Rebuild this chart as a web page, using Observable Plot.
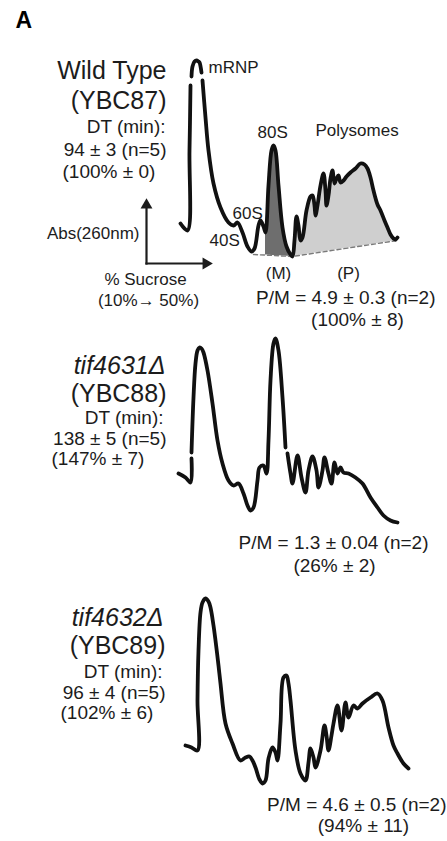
<!DOCTYPE html>
<html><head><meta charset="utf-8">
<script src="https://cdn.jsdelivr.net/npm/d3@7"></script>
<script src="https://cdn.jsdelivr.net/npm/@observablehq/plot@0.6"></script>
<style>
body{margin:0;background:#fff;width:447px;}
#fig svg{display:block;}
</style></head><body><div id="fig"></div>
<script>
// ---- Polysome profiles: gradient position (arbitrary units) vs Abs(260nm) (arbitrary units) ----
const wtPos = [2,9,11,12,13,13,14,16,18,20,21,23,23.5,24,27,30,35,42,50,55,59,64,69,73,76,80,82,85,87,90,93,95,97,100,104,108,112,114,116,118,120,122,124,128,132,134,136,137,139,142,145,147,148,150,152,154,156,158,160,162,165,168,172,177,182,186,189,192,195,199,202,206,209,212,215,217,219];
const wtAbs = [33,26,106,171,NaN,180,190,195,196,195,194,184,NaN,176,139,106,73,49,34,31,34,24,10,5,8,31,36,30,24,71,106,111,106,71,29,10,2,0,16,40,31,16,19,46,60,61,51,41,51,71,83,66,51,61,78,86,73,78,81,74,76,80,84,88,93,92,88,79,66,52,46,36,29,22,18,17,19];

const t1Pos = [0,7,12,13,13,13,15,17,19,21,23,25,29,34,39,44,50,55,60,65,69,72,75,79,81,85,88,90,92,95,97,100,104,107,108,109,112,114,119,123,127,130,134,138,140,144,146,150,153,156,159,162,165,170,177,184,192,199,205,212,219];
const t1Abs = [49,45,40,64,NaN,70,125,159,172,175,174,170,152,119,82,59,42,37,39,29,17,12,15,42,55,57,49,82,142,179,184,172,125,75,NaN,69,49,39,67,45,30,52,66,52,35,52,65,49,39,60,49,55,50,49,45,39,25,15,7,2,0];

const t2Pos = [7,13,19,19,20,22,24,27,30,32,35,37,40,42,47,54,62,67,71,74,77,81,84,87,90,94,97,99,102,105,108,110,112,117,122,127,130,132,135,137,142,146,148,150,153,155,159,163,167,170,175,179,184,192,199,204,210,215,219,225,230];
const t2Abs = [42,40,37,87,137,175,185,189,186,180,162,147,122,104,64,44,27,30,31,27,20,8,4,7,29,40,35,27,64,110,112,104,87,37,14,7,25,39,30,20,37,62,52,37,52,64,82,57,85,70,82,79,84,90,94,87,60,42,34,24,19];

// dashed baseline under the wild-type profile (M / P integration)
const basePos = [75,114,219];
const baseAbs = [2,0,16];

// text
const peakNames = ["mRNP","40S","60S","80S","Polysomes"];
const fracNames = ["(M)","(P)"];
const axisNames = ["Abs(260nm)","% Sucrose","(10%\u2192 50%)"];
const wtInfo = ["Wild Type","(YBC87)","DT (min):","94 \u00b1 3 (n=5)","(100% \u00b1 0)"];
const t1Info = ["tif4631\u0394","(YBC88)","DT (min):","138 \u00b1 5 (n=5)","(147% \u00b1 7)"];
const t2Info = ["tif4632\u0394","(YBC89)","DT (min):","96 \u00b1 4 (n=5)","(102% \u00b1 6)"];
const wtPM = ["P/M = 4.9 \u00b1 0.3 (n=2)","(100% \u00b1 8)"];
const t1PM = ["P/M = 1.3 \u00b1 0.04 (n=2)","(26% \u00b1 2)"];
const t2PM = ["P/M = 4.6 \u00b1 0.5 (n=2)","(94% \u00b1 11)"];
const panelLetter = "A";

// ---- drawing ----
const font = "'Liberation Sans', Arial, Helvetica, sans-serif";
const ink = "#1c1c1c";
const table = (p, a) => p.map((x, i) => ({x, y: a[i]}));
const wt = table(wtPos, wtAbs), t1 = table(t1Pos, t1Abs), t2 = table(t2Pos, t2Abs);
const base = d3.scaleLinear().domain(basePos).range(baseAbs);

function note(text, x, y, o = {}) {
  return Plot.text([text], {x: () => x, y: () => y, text: d => d, lineAnchor: "bottom",
    fill: ink, fontSize: 17, textAnchor: "start", ...o});
}
function profile(data) {
  return Plot.line(data, {x: "x", y: "y", stroke: "#111", strokeWidth: 3.8,
    strokeLinejoin: "round", strokeLinecap: "round", curve: "catmull-rom"});
}
function panel(h, yDomain, marks) {
  return Plot.plot({width: 447, height: h, margin: 0,
    x: {domain: [-178, 269], axis: null}, y: {domain: yDomain, axis: null},
    style: {fontFamily: font, background: "white", overflow: "visible"}, marks});
}
function info(lines, big, yy, xx, lastStart) {
  return [
    note(lines[0], xx[0], yy[0], {fontSize: 25, textAnchor: "end", fontStyle: big}),
    note(lines[1], xx[1], yy[1], {fontSize: 25, textAnchor: "end"}),
    note(lines[2], xx[2], yy[2], {fontSize: 19, textAnchor: "end"}),
    note(lines[3], xx[3], yy[3], {fontSize: 19, textAnchor: "end"}),
    note(lines[4], lastStart, yy[4], {fontSize: 19, textAnchor: "start"})
  ];
}

const fig = document.getElementById("fig");

const mPart = wt.filter(d => d.x >= 87 && d.x <= 114);
const pPart = wt.filter(d => d.x >= 114);

fig.append(panel(335, [-79, 256], [
  Plot.areaY(pPart, {x: "x", y1: d => base(d.x), y2: "y", fill: "#cfcfcf", curve: "catmull-rom"}),
  Plot.areaY(mPart, {x: "x", y1: d => base(d.x), y2: "y", fill: "#6e6e6e", curve: "catmull-rom"}),
  Plot.line(table(basePos, baseAbs), {x: "x", y: "y", stroke: "#7a7a7a", strokeWidth: 1.4, strokeDasharray: "4,3"}),
  profile(wt),
  note(panelLetter, -163, 229, {fontSize: 23, fontWeight: "bold", fill: "#000"}),
  ...info(wtInfo, "normal", [178, 148, 124, 101, 79], [-12, -12, -13, -12], -116),
  note(peakNames[0], 30, 184),
  note(peakNames[1], 31, 11),
  note(peakNames[2], 54, 38),
  note(peakNames[3], 79, 119),
  note(peakNames[4], 137, 121),
  note(fracNames[0], 100, -22, {textAnchor: "middle"}),
  note(fracNames[1], 170, -22, {textAnchor: "middle"}),
  // axis-direction arrows
  Plot.link([0], {x1: () => -32, y1: () => -7, x2: () => -32, y2: () => 49, stroke: ink, strokeWidth: 2.2, strokeLinecap: "square"}),
  Plot.link([0], {x1: () => -32, y1: () => -7, x2: () => 25, y2: () => -7, stroke: ink, strokeWidth: 2.2, strokeLinecap: "square"}),
  Plot.dot([0], {x: () => -32, y: () => 51.5, symbol: "triangle", r: 4.4, fill: ink, stroke: null}),
  Plot.dot([0], {x: () => 27.5, y: () => -7, symbol: "triangle", r: 4.4, fill: ink, stroke: null, rotate: 90}),
  note(axisNames[0], -39, 18, {textAnchor: "end"}),
  note(axisNames[1], -33, -28, {textAnchor: "middle"}),
  note(axisNames[2], -30, -49, {textAnchor: "middle"}),
  note(wtPM[0], 257, -47, {fontSize: 19, textAnchor: "end"}),
  note(wtPM[1], 179, -69, {fontSize: 19, textAnchor: "middle"})
]));

fig.append(panel(250, [-63, 187], [
  profile(t1),
  ...info(t1Info, "italic", [149, 121, 99, 78, 58], [-13, -12, -15, -12], -127),
  note(t1PM[0], 250, -26, {fontSize: 19, textAnchor: "end"}),
  note(t1PM[1], 156, -49, {fontSize: 19, textAnchor: "middle"})
]));

fig.append(panel(256, [-54, 202], [
  profile(t2),
  ...info(t2Info, "italic", [162, 134, 110, 89, 69], [-15, -13, -16, -13], -118),
  note(t2PM[0], 268, -23, {fontSize: 19, textAnchor: "end"}),
  note(t2PM[1], 185, -44, {fontSize: 19, textAnchor: "middle"})
]));
</script></body></html>
